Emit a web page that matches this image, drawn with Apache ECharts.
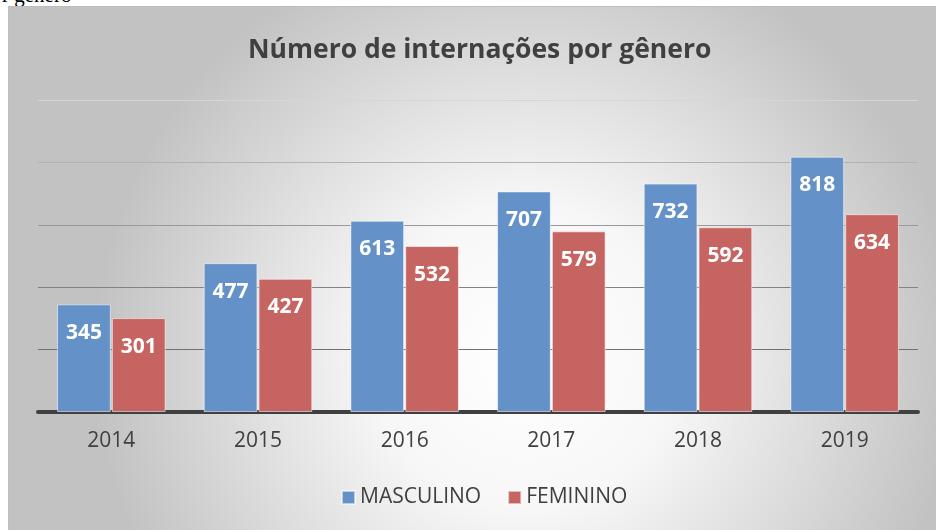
<!DOCTYPE html>
<html><head><meta charset="utf-8">
<script src="https://cdn.jsdelivr.net/npm/echarts@6/dist/echarts.min.js"></script>
<style>
html,body{margin:0;padding:0;background:#fff;overflow:hidden;}
#top{position:absolute;left:2px;top:-17px;font-family:"Liberation Serif",serif;font-size:21px;color:#000;}
#chart{position:absolute;left:0;top:0;width:936px;height:530px;}
</style></head>
<body>
<div id="top">r gênero</div>
<div id="chart"></div>
<script>
const title = 'Número de internações por gênero';
const years = ['2014','2015','2016','2017','2018','2019'];
const masculino = [345, 477, 613, 707, 732, 818];
const feminino = [301, 427, 532, 579, 592, 634];
const seriesNames = ['MASCULINO','FEMININO'];

const chart = echarts.init(document.getElementById('chart'), null, {renderer:'canvas'});
const font = '"Open Sans", sans-serif';
chart.setOption({
  backgroundColor: 'transparent',
  animation: false,
  graphic: [{
    type: 'rect', z: -10, silent: true,
    shape: {x: 8.5, y: 6.5, width: 940, height: 540},
    style: {
      fill: new echarts.graphic.RadialGradient(0.55, 0.65, 0.8, [
        {offset: 0, color: '#ffffff'},
        {offset: 0.35, color: '#f7f7f7'},
        {offset: 1, color: '#c2c2c2'}
      ]),
      stroke: '#bdbdbd', lineWidth: 1
    }
  }],
  title: {
    text: title, left: 243, top: 32,
    textStyle: {fontFamily: font, fontWeight: 'bold', fontSize: 26.5, color: '#404040'}
  },
  legend: {
    bottom: 17, left: 336, icon: 'rect', itemWidth: 13, itemHeight: 13, itemGap: 26,
    textStyle: {fontFamily: font, fontSize: 21, color: '#404040'},
    data: seriesNames
  },
  grid: {left: 38, right: 18, top: 100, bottom: 118, containLabel: false},
  xAxis: {
    type: 'category', data: years,
    axisLine: {lineStyle: {color: '#404040', width: 4}},
    axisTick: {show: false},
    axisLabel: {fontFamily: font, fontSize: 21, color: '#404040', margin: 19}
  },
  yAxis: {
    type: 'value', min: 0, max: 1000, interval: 200,
    axisLabel: {show: false}, axisLine: {show: false}, axisTick: {show: false},
    splitLine: {lineStyle: {color: ['#6e6e6e','#707070','#828282','#999999','#b2b2b2','#d6d6d6'], width: 1}}
  },
  series: [
    {
      name: seriesNames[0], type: 'bar', data: masculino,
      barGap: '2%', barCategoryGap: '26%',
      itemStyle: {color: '#6491c7', borderColor: 'rgba(255,255,255,0.55)', borderWidth: 1},
      label: {show: true, position: 'insideTop', distance: 18, fontFamily: font, fontWeight: 'bold', fontSize: 21, color: '#ffffff'}
    },
    {
      name: seriesNames[1], type: 'bar', data: feminino,
      itemStyle: {color: '#c66461', borderColor: 'rgba(255,255,255,0.55)', borderWidth: 1},
      label: {show: true, position: 'insideTop', distance: 18, fontFamily: font, fontWeight: 'bold', fontSize: 21, color: '#ffffff'}
    }
  ]
});
</script>
</body></html>
